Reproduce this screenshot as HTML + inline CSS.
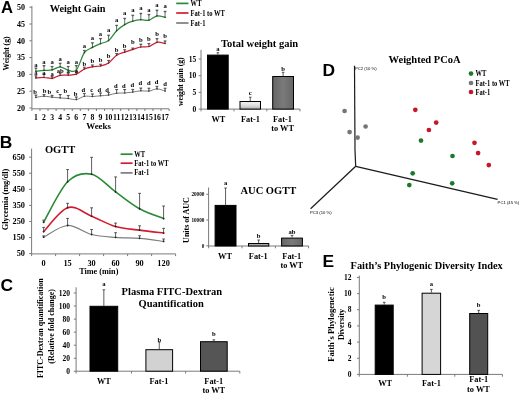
<!DOCTYPE html>
<html><head><meta charset="utf-8"><title>Figure</title>
<style>
html,body{margin:0;padding:0;background:#fff;width:520px;height:394px;overflow:hidden;}
svg{display:block;filter:blur(0.35px);}
</style></head>
<body>
<svg width="520" height="394" viewBox="0 0 520 394">
<rect x="0" y="0" width="520" height="394" fill="#fff"/>
<text x="0.90" y="12.80" font-family="'Liberation Sans', sans-serif" font-size="16.6" font-weight="bold" text-anchor="start" fill="#000" >A</text>
<text x="-0.30" y="147.80" font-family="'Liberation Sans', sans-serif" font-size="17.4" font-weight="bold" text-anchor="start" fill="#000" >B</text>
<text x="0.40" y="290.80" font-family="'Liberation Sans', sans-serif" font-size="17.4" font-weight="bold" text-anchor="start" fill="#000" >C</text>
<text x="322.60" y="76.20" font-family="'Liberation Sans', sans-serif" font-size="17.4" font-weight="bold" text-anchor="start" fill="#000" >D</text>
<text x="322.60" y="267.10" font-family="'Liberation Sans', sans-serif" font-size="17.4" font-weight="bold" text-anchor="start" fill="#000" >E</text>
<line x1="31.90" y1="6.00" x2="31.90" y2="108.80" stroke="#7a7a7a" stroke-width="1" />
<line x1="31.90" y1="108.80" x2="169.10" y2="108.80" stroke="#7a7a7a" stroke-width="1" />
<line x1="29.40" y1="7.20" x2="31.90" y2="7.20" stroke="#7a7a7a" stroke-width="1" />
<text x="25.00" y="9.92" font-family="'Liberation Serif', serif" font-size="8" font-weight="bold" text-anchor="end" fill="#000" >50</text>
<line x1="29.40" y1="24.00" x2="31.90" y2="24.00" stroke="#7a7a7a" stroke-width="1" />
<text x="25.00" y="26.72" font-family="'Liberation Serif', serif" font-size="8" font-weight="bold" text-anchor="end" fill="#000" >45</text>
<line x1="29.40" y1="40.80" x2="31.90" y2="40.80" stroke="#7a7a7a" stroke-width="1" />
<text x="25.00" y="43.52" font-family="'Liberation Serif', serif" font-size="8" font-weight="bold" text-anchor="end" fill="#000" >40</text>
<line x1="29.40" y1="57.60" x2="31.90" y2="57.60" stroke="#7a7a7a" stroke-width="1" />
<text x="25.00" y="60.32" font-family="'Liberation Serif', serif" font-size="8" font-weight="bold" text-anchor="end" fill="#000" >35</text>
<line x1="29.40" y1="74.40" x2="31.90" y2="74.40" stroke="#7a7a7a" stroke-width="1" />
<text x="25.00" y="77.12" font-family="'Liberation Serif', serif" font-size="8" font-weight="bold" text-anchor="end" fill="#000" >30</text>
<line x1="29.40" y1="91.20" x2="31.90" y2="91.20" stroke="#7a7a7a" stroke-width="1" />
<text x="25.00" y="93.92" font-family="'Liberation Serif', serif" font-size="8" font-weight="bold" text-anchor="end" fill="#000" >25</text>
<line x1="29.40" y1="108.00" x2="31.90" y2="108.00" stroke="#7a7a7a" stroke-width="1" />
<text x="25.00" y="110.72" font-family="'Liberation Serif', serif" font-size="8" font-weight="bold" text-anchor="end" fill="#000" >20</text>
<line x1="31.90" y1="108.80" x2="31.90" y2="111.00" stroke="#7a7a7a" stroke-width="1" />
<line x1="39.97" y1="108.80" x2="39.97" y2="111.00" stroke="#7a7a7a" stroke-width="1" />
<line x1="48.04" y1="108.80" x2="48.04" y2="111.00" stroke="#7a7a7a" stroke-width="1" />
<line x1="56.11" y1="108.80" x2="56.11" y2="111.00" stroke="#7a7a7a" stroke-width="1" />
<line x1="64.18" y1="108.80" x2="64.18" y2="111.00" stroke="#7a7a7a" stroke-width="1" />
<line x1="72.25" y1="108.80" x2="72.25" y2="111.00" stroke="#7a7a7a" stroke-width="1" />
<line x1="80.32" y1="108.80" x2="80.32" y2="111.00" stroke="#7a7a7a" stroke-width="1" />
<line x1="88.39" y1="108.80" x2="88.39" y2="111.00" stroke="#7a7a7a" stroke-width="1" />
<line x1="96.46" y1="108.80" x2="96.46" y2="111.00" stroke="#7a7a7a" stroke-width="1" />
<line x1="104.54" y1="108.80" x2="104.54" y2="111.00" stroke="#7a7a7a" stroke-width="1" />
<line x1="112.61" y1="108.80" x2="112.61" y2="111.00" stroke="#7a7a7a" stroke-width="1" />
<line x1="120.68" y1="108.80" x2="120.68" y2="111.00" stroke="#7a7a7a" stroke-width="1" />
<line x1="128.75" y1="108.80" x2="128.75" y2="111.00" stroke="#7a7a7a" stroke-width="1" />
<line x1="136.82" y1="108.80" x2="136.82" y2="111.00" stroke="#7a7a7a" stroke-width="1" />
<line x1="144.89" y1="108.80" x2="144.89" y2="111.00" stroke="#7a7a7a" stroke-width="1" />
<line x1="152.96" y1="108.80" x2="152.96" y2="111.00" stroke="#7a7a7a" stroke-width="1" />
<line x1="161.03" y1="108.80" x2="161.03" y2="111.00" stroke="#7a7a7a" stroke-width="1" />
<line x1="169.10" y1="108.80" x2="169.10" y2="111.00" stroke="#7a7a7a" stroke-width="1" />
<text x="35.94" y="119.60" font-family="'Liberation Serif', serif" font-size="7.7" font-weight="bold" text-anchor="middle" fill="#000" >1</text>
<text x="44.01" y="119.60" font-family="'Liberation Serif', serif" font-size="7.7" font-weight="bold" text-anchor="middle" fill="#000" >2</text>
<text x="52.08" y="119.60" font-family="'Liberation Serif', serif" font-size="7.7" font-weight="bold" text-anchor="middle" fill="#000" >3</text>
<text x="60.15" y="119.60" font-family="'Liberation Serif', serif" font-size="7.7" font-weight="bold" text-anchor="middle" fill="#000" >4</text>
<text x="68.22" y="119.60" font-family="'Liberation Serif', serif" font-size="7.7" font-weight="bold" text-anchor="middle" fill="#000" >5</text>
<text x="76.29" y="119.60" font-family="'Liberation Serif', serif" font-size="7.7" font-weight="bold" text-anchor="middle" fill="#000" >6</text>
<text x="84.36" y="119.60" font-family="'Liberation Serif', serif" font-size="7.7" font-weight="bold" text-anchor="middle" fill="#000" >7</text>
<text x="92.43" y="119.60" font-family="'Liberation Serif', serif" font-size="7.7" font-weight="bold" text-anchor="middle" fill="#000" >8</text>
<text x="100.50" y="119.60" font-family="'Liberation Serif', serif" font-size="7.7" font-weight="bold" text-anchor="middle" fill="#000" >9</text>
<text x="108.57" y="119.60" font-family="'Liberation Serif', serif" font-size="7.7" font-weight="bold" text-anchor="middle" fill="#000" >10</text>
<text x="116.64" y="119.60" font-family="'Liberation Serif', serif" font-size="7.7" font-weight="bold" text-anchor="middle" fill="#000" >11</text>
<text x="124.71" y="119.60" font-family="'Liberation Serif', serif" font-size="7.7" font-weight="bold" text-anchor="middle" fill="#000" >12</text>
<text x="132.78" y="119.60" font-family="'Liberation Serif', serif" font-size="7.7" font-weight="bold" text-anchor="middle" fill="#000" >13</text>
<text x="140.85" y="119.60" font-family="'Liberation Serif', serif" font-size="7.7" font-weight="bold" text-anchor="middle" fill="#000" >14</text>
<text x="148.92" y="119.60" font-family="'Liberation Serif', serif" font-size="7.7" font-weight="bold" text-anchor="middle" fill="#000" >15</text>
<text x="156.99" y="119.60" font-family="'Liberation Serif', serif" font-size="7.7" font-weight="bold" text-anchor="middle" fill="#000" >16</text>
<text x="165.06" y="119.60" font-family="'Liberation Serif', serif" font-size="7.7" font-weight="bold" text-anchor="middle" fill="#000" >17</text>
<text x="98.60" y="128.80" font-family="'Liberation Serif', serif" font-size="8.9" font-weight="bold" text-anchor="middle" fill="#000" >Weeks</text>
<text transform="translate(6.30,53.50) rotate(-90)" x="0" y="0" font-family="'Liberation Serif', serif" font-size="7.6" font-weight="bold" text-anchor="middle" dominant-baseline="central" fill="#000">Weight (g)</text>
<text x="49.70" y="12.00" font-family="'Liberation Serif', serif" font-size="10.3" font-weight="bold" text-anchor="start" fill="#000" >Weight Gain</text>
<line x1="35.94" y1="97.40" x2="35.94" y2="95.00" stroke="#3a3a3a" stroke-width="0.75" />
<line x1="34.49" y1="95.00" x2="37.39" y2="95.00" stroke="#3a3a3a" stroke-width="0.8" />
<path d="M34.74,95.00 L37.14,95.00 L35.94,96.60 Z" fill="#555"/>
<line x1="44.01" y1="96.20" x2="44.01" y2="94.50" stroke="#3a3a3a" stroke-width="0.75" />
<line x1="42.56" y1="94.50" x2="45.46" y2="94.50" stroke="#3a3a3a" stroke-width="0.8" />
<path d="M42.81,94.50 L45.21,94.50 L44.01,96.10 Z" fill="#555"/>
<line x1="52.08" y1="97.20" x2="52.08" y2="95.30" stroke="#3a3a3a" stroke-width="0.75" />
<line x1="50.63" y1="95.30" x2="53.53" y2="95.30" stroke="#3a3a3a" stroke-width="0.8" />
<path d="M50.88,95.30 L53.28,95.30 L52.08,96.90 Z" fill="#555"/>
<line x1="60.15" y1="97.90" x2="60.15" y2="94.50" stroke="#3a3a3a" stroke-width="0.75" />
<line x1="58.70" y1="94.50" x2="61.60" y2="94.50" stroke="#3a3a3a" stroke-width="0.8" />
<path d="M58.95,94.50 L61.35,94.50 L60.15,96.10 Z" fill="#555"/>
<line x1="68.22" y1="98.50" x2="68.22" y2="95.50" stroke="#3a3a3a" stroke-width="0.75" />
<line x1="66.77" y1="95.50" x2="69.67" y2="95.50" stroke="#3a3a3a" stroke-width="0.8" />
<path d="M67.02,95.50 L69.42,95.50 L68.22,97.10 Z" fill="#555"/>
<line x1="76.29" y1="99.60" x2="76.29" y2="96.90" stroke="#3a3a3a" stroke-width="0.75" />
<line x1="74.84" y1="96.90" x2="77.74" y2="96.90" stroke="#3a3a3a" stroke-width="0.8" />
<path d="M75.09,96.90 L77.49,96.90 L76.29,98.50 Z" fill="#555"/>
<line x1="84.36" y1="96.30" x2="84.36" y2="93.40" stroke="#3a3a3a" stroke-width="0.75" />
<line x1="82.91" y1="93.40" x2="85.81" y2="93.40" stroke="#3a3a3a" stroke-width="0.8" />
<path d="M83.16,93.40 L85.56,93.40 L84.36,95.00 Z" fill="#555"/>
<line x1="92.43" y1="96.50" x2="92.43" y2="93.90" stroke="#3a3a3a" stroke-width="0.75" />
<line x1="90.98" y1="93.90" x2="93.88" y2="93.90" stroke="#3a3a3a" stroke-width="0.8" />
<path d="M91.23,93.90 L93.63,93.90 L92.43,95.50 Z" fill="#555"/>
<line x1="100.50" y1="95.80" x2="100.50" y2="92.90" stroke="#3a3a3a" stroke-width="0.75" />
<line x1="99.05" y1="92.90" x2="101.95" y2="92.90" stroke="#3a3a3a" stroke-width="0.8" />
<path d="M99.30,92.90 L101.70,92.90 L100.50,94.50 Z" fill="#555"/>
<line x1="108.57" y1="95.10" x2="108.57" y2="92.40" stroke="#3a3a3a" stroke-width="0.75" />
<line x1="107.12" y1="92.40" x2="110.02" y2="92.40" stroke="#3a3a3a" stroke-width="0.8" />
<path d="M107.37,92.40 L109.77,92.40 L108.57,94.00 Z" fill="#555"/>
<line x1="116.64" y1="93.20" x2="116.64" y2="89.50" stroke="#3a3a3a" stroke-width="0.75" />
<line x1="115.19" y1="89.50" x2="118.09" y2="89.50" stroke="#3a3a3a" stroke-width="0.8" />
<path d="M115.44,89.50 L117.84,89.50 L116.64,91.10 Z" fill="#555"/>
<line x1="124.71" y1="93.00" x2="124.71" y2="89.50" stroke="#3a3a3a" stroke-width="0.75" />
<line x1="123.26" y1="89.50" x2="126.16" y2="89.50" stroke="#3a3a3a" stroke-width="0.8" />
<path d="M123.51,89.50 L125.91,89.50 L124.71,91.10 Z" fill="#555"/>
<line x1="132.78" y1="92.10" x2="132.78" y2="89.40" stroke="#3a3a3a" stroke-width="0.75" />
<line x1="131.33" y1="89.40" x2="134.23" y2="89.40" stroke="#3a3a3a" stroke-width="0.8" />
<path d="M131.58,89.40 L133.98,89.40 L132.78,91.00 Z" fill="#555"/>
<line x1="140.85" y1="90.80" x2="140.85" y2="88.00" stroke="#3a3a3a" stroke-width="0.75" />
<line x1="139.40" y1="88.00" x2="142.30" y2="88.00" stroke="#3a3a3a" stroke-width="0.8" />
<path d="M139.65,88.00 L142.05,88.00 L140.85,89.60 Z" fill="#555"/>
<line x1="148.92" y1="91.10" x2="148.92" y2="88.20" stroke="#3a3a3a" stroke-width="0.75" />
<line x1="147.47" y1="88.20" x2="150.37" y2="88.20" stroke="#3a3a3a" stroke-width="0.8" />
<path d="M147.72,88.20 L150.12,88.20 L148.92,89.80 Z" fill="#555"/>
<line x1="156.99" y1="88.90" x2="156.99" y2="86.30" stroke="#3a3a3a" stroke-width="0.75" />
<line x1="155.54" y1="86.30" x2="158.44" y2="86.30" stroke="#3a3a3a" stroke-width="0.8" />
<path d="M155.79,86.30 L158.19,86.30 L156.99,87.90 Z" fill="#555"/>
<line x1="165.06" y1="91.10" x2="165.06" y2="88.20" stroke="#3a3a3a" stroke-width="0.75" />
<line x1="163.61" y1="88.20" x2="166.51" y2="88.20" stroke="#3a3a3a" stroke-width="0.8" />
<path d="M163.86,88.20 L166.26,88.20 L165.06,89.80 Z" fill="#555"/>
<path d="M35.94,97.40 C37.28,97.20 41.32,96.23 44.01,96.20 C46.70,96.17 49.39,96.92 52.08,97.20 C54.77,97.48 57.46,97.68 60.15,97.90 C62.84,98.12 65.53,98.22 68.22,98.50 C70.91,98.78 73.60,99.97 76.29,99.60 C78.98,99.23 81.67,96.82 84.36,96.30 C87.05,95.78 89.74,96.58 92.43,96.50 C95.12,96.42 97.81,96.03 100.50,95.80 C103.19,95.57 105.88,95.53 108.57,95.10 C111.26,94.67 113.95,93.55 116.64,93.20 C119.33,92.85 122.02,93.18 124.71,93.00 C127.40,92.82 130.09,92.47 132.78,92.10 C135.47,91.73 138.16,90.97 140.85,90.80 C143.54,90.63 146.23,91.42 148.92,91.10 C151.61,90.78 154.30,88.90 156.99,88.90 C159.68,88.90 163.72,90.73 165.06,91.10" stroke="#7c7c7c" stroke-width="1.0" fill="none" stroke-linejoin="round" stroke-linecap="round"/>
<circle cx="35.94" cy="97.40" r="0.8" fill="#333"/>
<circle cx="44.01" cy="96.20" r="0.8" fill="#333"/>
<circle cx="52.08" cy="97.20" r="0.8" fill="#333"/>
<circle cx="60.15" cy="97.90" r="0.8" fill="#333"/>
<circle cx="68.22" cy="98.50" r="0.8" fill="#333"/>
<circle cx="76.29" cy="99.60" r="0.8" fill="#333"/>
<circle cx="84.36" cy="96.30" r="0.8" fill="#333"/>
<circle cx="92.43" cy="96.50" r="0.8" fill="#333"/>
<circle cx="100.50" cy="95.80" r="0.8" fill="#333"/>
<circle cx="108.57" cy="95.10" r="0.8" fill="#333"/>
<circle cx="116.64" cy="93.20" r="0.8" fill="#333"/>
<circle cx="124.71" cy="93.00" r="0.8" fill="#333"/>
<circle cx="132.78" cy="92.10" r="0.8" fill="#333"/>
<circle cx="140.85" cy="90.80" r="0.8" fill="#333"/>
<circle cx="148.92" cy="91.10" r="0.8" fill="#333"/>
<circle cx="156.99" cy="88.90" r="0.8" fill="#333"/>
<circle cx="165.06" cy="91.10" r="0.8" fill="#333"/>
<text x="35.14" y="93.60" font-family="'Liberation Serif', serif" font-size="6.6" font-weight="bold" text-anchor="middle" fill="#000" >b</text>
<text x="44.51" y="93.20" font-family="'Liberation Serif', serif" font-size="6.6" font-weight="bold" text-anchor="middle" fill="#000" >b</text>
<text x="49.28" y="93.60" font-family="'Liberation Serif', serif" font-size="6.6" font-weight="bold" text-anchor="middle" fill="#000" >b</text>
<text x="57.65" y="92.90" font-family="'Liberation Serif', serif" font-size="6.6" font-weight="bold" text-anchor="middle" fill="#000" >c</text>
<text x="65.42" y="93.20" font-family="'Liberation Serif', serif" font-size="6.6" font-weight="bold" text-anchor="middle" fill="#000" >b</text>
<text x="75.49" y="95.80" font-family="'Liberation Serif', serif" font-size="6.6" font-weight="bold" text-anchor="middle" fill="#000" >b</text>
<text x="83.36" y="92.00" font-family="'Liberation Serif', serif" font-size="6.6" font-weight="bold" text-anchor="middle" fill="#000" >d</text>
<text x="91.63" y="91.80" font-family="'Liberation Serif', serif" font-size="6.6" font-weight="bold" text-anchor="middle" fill="#000" >c</text>
<text x="99.40" y="91.80" font-family="'Liberation Serif', serif" font-size="6.6" font-weight="bold" text-anchor="middle" fill="#000" >d</text>
<text x="107.07" y="91.50" font-family="'Liberation Serif', serif" font-size="6.6" font-weight="bold" text-anchor="middle" fill="#000" >d</text>
<text x="115.74" y="87.70" font-family="'Liberation Serif', serif" font-size="6.6" font-weight="bold" text-anchor="middle" fill="#000" >d</text>
<text x="123.91" y="87.70" font-family="'Liberation Serif', serif" font-size="6.6" font-weight="bold" text-anchor="middle" fill="#000" >d</text>
<text x="132.38" y="86.90" font-family="'Liberation Serif', serif" font-size="6.6" font-weight="bold" text-anchor="middle" fill="#000" >d</text>
<text x="140.45" y="85.30" font-family="'Liberation Serif', serif" font-size="6.6" font-weight="bold" text-anchor="middle" fill="#000" >d</text>
<text x="148.92" y="85.00" font-family="'Liberation Serif', serif" font-size="6.6" font-weight="bold" text-anchor="middle" fill="#000" >d</text>
<text x="156.59" y="84.20" font-family="'Liberation Serif', serif" font-size="6.6" font-weight="bold" text-anchor="middle" fill="#000" >d</text>
<text x="165.06" y="85.60" font-family="'Liberation Serif', serif" font-size="6.6" font-weight="bold" text-anchor="middle" fill="#000" >d</text>
<line x1="35.94" y1="77.90" x2="35.94" y2="75.80" stroke="#3a3a3a" stroke-width="0.75" />
<line x1="34.49" y1="75.80" x2="37.39" y2="75.80" stroke="#3a3a3a" stroke-width="0.8" />
<path d="M34.74,75.80 L37.14,75.80 L35.94,77.40 Z" fill="#555"/>
<line x1="44.01" y1="77.50" x2="44.01" y2="74.00" stroke="#3a3a3a" stroke-width="0.75" />
<line x1="42.56" y1="74.00" x2="45.46" y2="74.00" stroke="#3a3a3a" stroke-width="0.8" />
<path d="M42.81,74.00 L45.21,74.00 L44.01,75.60 Z" fill="#555"/>
<line x1="52.08" y1="78.40" x2="52.08" y2="76.30" stroke="#3a3a3a" stroke-width="0.75" />
<line x1="50.63" y1="76.30" x2="53.53" y2="76.30" stroke="#3a3a3a" stroke-width="0.8" />
<path d="M50.88,76.30 L53.28,76.30 L52.08,77.90 Z" fill="#555"/>
<line x1="60.15" y1="75.30" x2="60.15" y2="73.00" stroke="#3a3a3a" stroke-width="0.75" />
<line x1="58.70" y1="73.00" x2="61.60" y2="73.00" stroke="#3a3a3a" stroke-width="0.8" />
<path d="M58.95,73.00 L61.35,73.00 L60.15,74.60 Z" fill="#555"/>
<line x1="68.22" y1="75.10" x2="68.22" y2="73.00" stroke="#3a3a3a" stroke-width="0.75" />
<line x1="66.77" y1="73.00" x2="69.67" y2="73.00" stroke="#3a3a3a" stroke-width="0.8" />
<path d="M67.02,73.00 L69.42,73.00 L68.22,74.60 Z" fill="#555"/>
<line x1="76.29" y1="74.20" x2="76.29" y2="71.60" stroke="#3a3a3a" stroke-width="0.75" />
<line x1="74.84" y1="71.60" x2="77.74" y2="71.60" stroke="#3a3a3a" stroke-width="0.8" />
<path d="M75.09,71.60 L77.49,71.60 L76.29,73.20 Z" fill="#555"/>
<line x1="84.36" y1="69.00" x2="84.36" y2="67.20" stroke="#3a3a3a" stroke-width="0.75" />
<line x1="82.91" y1="67.20" x2="85.81" y2="67.20" stroke="#3a3a3a" stroke-width="0.8" />
<path d="M83.16,67.20 L85.56,67.20 L84.36,68.80 Z" fill="#555"/>
<line x1="92.43" y1="66.80" x2="92.43" y2="64.90" stroke="#3a3a3a" stroke-width="0.75" />
<line x1="90.98" y1="64.90" x2="93.88" y2="64.90" stroke="#3a3a3a" stroke-width="0.8" />
<path d="M91.23,64.90 L93.63,64.90 L92.43,66.50 Z" fill="#555"/>
<line x1="100.50" y1="66.00" x2="100.50" y2="64.20" stroke="#3a3a3a" stroke-width="0.75" />
<line x1="99.05" y1="64.20" x2="101.95" y2="64.20" stroke="#3a3a3a" stroke-width="0.8" />
<path d="M99.30,64.20 L101.70,64.20 L100.50,65.80 Z" fill="#555"/>
<line x1="108.57" y1="63.00" x2="108.57" y2="60.40" stroke="#3a3a3a" stroke-width="0.75" />
<line x1="107.12" y1="60.40" x2="110.02" y2="60.40" stroke="#3a3a3a" stroke-width="0.8" />
<path d="M107.37,60.40 L109.77,60.40 L108.57,62.00 Z" fill="#555"/>
<line x1="116.64" y1="55.30" x2="116.64" y2="53.50" stroke="#3a3a3a" stroke-width="0.75" />
<line x1="115.19" y1="53.50" x2="118.09" y2="53.50" stroke="#3a3a3a" stroke-width="0.8" />
<path d="M115.44,53.50 L117.84,53.50 L116.64,55.10 Z" fill="#555"/>
<line x1="124.71" y1="52.20" x2="124.71" y2="49.70" stroke="#3a3a3a" stroke-width="0.75" />
<line x1="123.26" y1="49.70" x2="126.16" y2="49.70" stroke="#3a3a3a" stroke-width="0.8" />
<path d="M123.51,49.70 L125.91,49.70 L124.71,51.30 Z" fill="#555"/>
<line x1="132.78" y1="49.50" x2="132.78" y2="48.00" stroke="#3a3a3a" stroke-width="0.75" />
<line x1="131.33" y1="48.00" x2="134.23" y2="48.00" stroke="#3a3a3a" stroke-width="0.8" />
<path d="M131.58,48.00 L133.98,48.00 L132.78,49.50 Z" fill="#555"/>
<line x1="140.85" y1="47.00" x2="140.85" y2="44.10" stroke="#3a3a3a" stroke-width="0.75" />
<line x1="139.40" y1="44.10" x2="142.30" y2="44.10" stroke="#3a3a3a" stroke-width="0.8" />
<path d="M139.65,44.10 L142.05,44.10 L140.85,45.70 Z" fill="#555"/>
<line x1="148.92" y1="46.50" x2="148.92" y2="43.50" stroke="#3a3a3a" stroke-width="0.75" />
<line x1="147.47" y1="43.50" x2="150.37" y2="43.50" stroke="#3a3a3a" stroke-width="0.8" />
<path d="M147.72,43.50 L150.12,43.50 L148.92,45.10 Z" fill="#555"/>
<line x1="156.99" y1="42.30" x2="156.99" y2="38.60" stroke="#3a3a3a" stroke-width="0.75" />
<line x1="155.54" y1="38.60" x2="158.44" y2="38.60" stroke="#3a3a3a" stroke-width="0.8" />
<path d="M155.79,38.60 L158.19,38.60 L156.99,40.20 Z" fill="#555"/>
<line x1="165.06" y1="43.50" x2="165.06" y2="40.90" stroke="#3a3a3a" stroke-width="0.75" />
<line x1="163.61" y1="40.90" x2="166.51" y2="40.90" stroke="#3a3a3a" stroke-width="0.8" />
<path d="M163.86,40.90 L166.26,40.90 L165.06,42.50 Z" fill="#555"/>
<path d="M35.94,77.90 C37.28,77.83 41.32,77.42 44.01,77.50 C46.70,77.58 49.39,78.77 52.08,78.40 C54.77,78.03 57.46,75.85 60.15,75.30 C62.84,74.75 65.53,75.28 68.22,75.10 C70.91,74.92 73.60,75.22 76.29,74.20 C78.98,73.18 81.67,70.23 84.36,69.00 C87.05,67.77 89.74,67.30 92.43,66.80 C95.12,66.30 97.81,66.63 100.50,66.00 C103.19,65.37 105.88,64.78 108.57,63.00 C111.26,61.22 113.95,57.10 116.64,55.30 C119.33,53.50 122.02,53.17 124.71,52.20 C127.40,51.23 130.09,50.37 132.78,49.50 C135.47,48.63 138.16,47.50 140.85,47.00 C143.54,46.50 146.23,47.28 148.92,46.50 C151.61,45.72 154.30,42.80 156.99,42.30 C159.68,41.80 163.72,43.30 165.06,43.50" stroke="#d41a2e" stroke-width="1.25" fill="none" stroke-linejoin="round" stroke-linecap="round"/>
<circle cx="35.94" cy="77.90" r="0.8" fill="#333"/>
<circle cx="44.01" cy="77.50" r="0.8" fill="#333"/>
<circle cx="52.08" cy="78.40" r="0.8" fill="#333"/>
<circle cx="60.15" cy="75.30" r="0.8" fill="#333"/>
<circle cx="68.22" cy="75.10" r="0.8" fill="#333"/>
<circle cx="76.29" cy="74.20" r="0.8" fill="#333"/>
<circle cx="84.36" cy="69.00" r="0.8" fill="#333"/>
<circle cx="92.43" cy="66.80" r="0.8" fill="#333"/>
<circle cx="100.50" cy="66.00" r="0.8" fill="#333"/>
<circle cx="108.57" cy="63.00" r="0.8" fill="#333"/>
<circle cx="116.64" cy="55.30" r="0.8" fill="#333"/>
<circle cx="124.71" cy="52.20" r="0.8" fill="#333"/>
<circle cx="132.78" cy="49.50" r="0.8" fill="#333"/>
<circle cx="140.85" cy="47.00" r="0.8" fill="#333"/>
<circle cx="148.92" cy="46.50" r="0.8" fill="#333"/>
<circle cx="156.99" cy="42.30" r="0.8" fill="#333"/>
<circle cx="165.06" cy="43.50" r="0.8" fill="#333"/>
<text x="35.94" y="75.30" font-family="'Liberation Serif', serif" font-size="6.6" font-weight="bold" text-anchor="middle" fill="#000" >a</text>
<text x="44.01" y="74.60" font-family="'Liberation Serif', serif" font-size="6.6" font-weight="bold" text-anchor="middle" fill="#000" >a</text>
<text x="52.08" y="75.60" font-family="'Liberation Serif', serif" font-size="6.6" font-weight="bold" text-anchor="middle" fill="#000" >a</text>
<text x="60.15" y="73.10" font-family="'Liberation Serif', serif" font-size="6.6" font-weight="bold" text-anchor="middle" fill="#000" >ab</text>
<text x="68.22" y="72.50" font-family="'Liberation Serif', serif" font-size="6.6" font-weight="bold" text-anchor="middle" fill="#000" >a</text>
<text x="76.29" y="72.50" font-family="'Liberation Serif', serif" font-size="6.6" font-weight="bold" text-anchor="middle" fill="#000" >a</text>
<text x="84.36" y="66.40" font-family="'Liberation Serif', serif" font-size="6.6" font-weight="bold" text-anchor="middle" fill="#000" >b</text>
<text x="92.43" y="62.60" font-family="'Liberation Serif', serif" font-size="6.6" font-weight="bold" text-anchor="middle" fill="#000" >b</text>
<text x="100.50" y="62.10" font-family="'Liberation Serif', serif" font-size="6.6" font-weight="bold" text-anchor="middle" fill="#000" >b</text>
<text x="108.57" y="57.50" font-family="'Liberation Serif', serif" font-size="6.6" font-weight="bold" text-anchor="middle" fill="#000" >b</text>
<text x="116.64" y="52.20" font-family="'Liberation Serif', serif" font-size="6.6" font-weight="bold" text-anchor="middle" fill="#000" >b</text>
<text x="124.71" y="47.50" font-family="'Liberation Serif', serif" font-size="6.6" font-weight="bold" text-anchor="middle" fill="#000" >b</text>
<text x="132.78" y="44.10" font-family="'Liberation Serif', serif" font-size="6.6" font-weight="bold" text-anchor="middle" fill="#000" >b</text>
<text x="140.85" y="41.70" font-family="'Liberation Serif', serif" font-size="6.6" font-weight="bold" text-anchor="middle" fill="#000" >b</text>
<text x="148.92" y="40.50" font-family="'Liberation Serif', serif" font-size="6.6" font-weight="bold" text-anchor="middle" fill="#000" >b</text>
<text x="156.99" y="35.70" font-family="'Liberation Serif', serif" font-size="6.6" font-weight="bold" text-anchor="middle" fill="#000" >b</text>
<text x="165.06" y="37.60" font-family="'Liberation Serif', serif" font-size="6.6" font-weight="bold" text-anchor="middle" fill="#000" >b</text>
<line x1="35.94" y1="71.40" x2="35.94" y2="68.00" stroke="#3a3a3a" stroke-width="0.75" />
<line x1="34.49" y1="68.00" x2="37.39" y2="68.00" stroke="#3a3a3a" stroke-width="0.8" />
<path d="M34.74,68.00 L37.14,68.00 L35.94,69.60 Z" fill="#555"/>
<line x1="44.01" y1="70.40" x2="44.01" y2="65.60" stroke="#3a3a3a" stroke-width="0.75" />
<line x1="42.56" y1="65.60" x2="45.46" y2="65.60" stroke="#3a3a3a" stroke-width="0.8" />
<path d="M42.81,65.60 L45.21,65.60 L44.01,67.20 Z" fill="#555"/>
<line x1="52.08" y1="69.90" x2="52.08" y2="66.40" stroke="#3a3a3a" stroke-width="0.75" />
<line x1="50.63" y1="66.40" x2="53.53" y2="66.40" stroke="#3a3a3a" stroke-width="0.8" />
<path d="M50.88,66.40 L53.28,66.40 L52.08,68.00 Z" fill="#555"/>
<line x1="60.15" y1="66.80" x2="60.15" y2="63.20" stroke="#3a3a3a" stroke-width="0.75" />
<line x1="58.70" y1="63.20" x2="61.60" y2="63.20" stroke="#3a3a3a" stroke-width="0.8" />
<path d="M58.95,63.20 L61.35,63.20 L60.15,64.80 Z" fill="#555"/>
<line x1="68.22" y1="70.20" x2="68.22" y2="66.40" stroke="#3a3a3a" stroke-width="0.75" />
<line x1="66.77" y1="66.40" x2="69.67" y2="66.40" stroke="#3a3a3a" stroke-width="0.8" />
<path d="M67.02,66.40 L69.42,66.40 L68.22,68.00 Z" fill="#555"/>
<line x1="76.29" y1="70.20" x2="76.29" y2="65.60" stroke="#3a3a3a" stroke-width="0.75" />
<line x1="74.84" y1="65.60" x2="77.74" y2="65.60" stroke="#3a3a3a" stroke-width="0.8" />
<path d="M75.09,65.60 L77.49,65.60 L76.29,67.20 Z" fill="#555"/>
<line x1="84.36" y1="52.70" x2="84.36" y2="50.40" stroke="#3a3a3a" stroke-width="0.75" />
<line x1="82.91" y1="50.40" x2="85.81" y2="50.40" stroke="#3a3a3a" stroke-width="0.8" />
<path d="M83.16,50.40 L85.56,50.40 L84.36,52.00 Z" fill="#555"/>
<line x1="92.43" y1="47.40" x2="92.43" y2="42.80" stroke="#3a3a3a" stroke-width="0.75" />
<line x1="90.98" y1="42.80" x2="93.88" y2="42.80" stroke="#3a3a3a" stroke-width="0.8" />
<path d="M91.23,42.80 L93.63,42.80 L92.43,44.40 Z" fill="#555"/>
<line x1="100.50" y1="43.60" x2="100.50" y2="38.60" stroke="#3a3a3a" stroke-width="0.75" />
<line x1="99.05" y1="38.60" x2="101.95" y2="38.60" stroke="#3a3a3a" stroke-width="0.8" />
<path d="M99.30,38.60 L101.70,38.60 L100.50,40.20 Z" fill="#555"/>
<line x1="108.57" y1="40.60" x2="108.57" y2="35.20" stroke="#3a3a3a" stroke-width="0.75" />
<line x1="107.12" y1="35.20" x2="110.02" y2="35.20" stroke="#3a3a3a" stroke-width="0.8" />
<path d="M107.37,35.20 L109.77,35.20 L108.57,36.80 Z" fill="#555"/>
<line x1="116.64" y1="30.70" x2="116.64" y2="25.30" stroke="#3a3a3a" stroke-width="0.75" />
<line x1="115.19" y1="25.30" x2="118.09" y2="25.30" stroke="#3a3a3a" stroke-width="0.8" />
<path d="M115.44,25.30 L117.84,25.30 L116.64,26.90 Z" fill="#555"/>
<line x1="124.71" y1="24.60" x2="124.71" y2="18.30" stroke="#3a3a3a" stroke-width="0.75" />
<line x1="123.26" y1="18.30" x2="126.16" y2="18.30" stroke="#3a3a3a" stroke-width="0.8" />
<path d="M123.51,18.30 L125.91,18.30 L124.71,19.90 Z" fill="#555"/>
<line x1="132.78" y1="21.20" x2="132.78" y2="15.20" stroke="#3a3a3a" stroke-width="0.75" />
<line x1="131.33" y1="15.20" x2="134.23" y2="15.20" stroke="#3a3a3a" stroke-width="0.8" />
<path d="M131.58,15.20 L133.98,15.20 L132.78,16.80 Z" fill="#555"/>
<line x1="140.85" y1="19.70" x2="140.85" y2="13.30" stroke="#3a3a3a" stroke-width="0.75" />
<line x1="139.40" y1="13.30" x2="142.30" y2="13.30" stroke="#3a3a3a" stroke-width="0.8" />
<path d="M139.65,13.30 L142.05,13.30 L140.85,14.90 Z" fill="#555"/>
<line x1="148.92" y1="20.20" x2="148.92" y2="14.40" stroke="#3a3a3a" stroke-width="0.75" />
<line x1="147.47" y1="14.40" x2="150.37" y2="14.40" stroke="#3a3a3a" stroke-width="0.8" />
<path d="M147.72,14.40 L150.12,14.40 L148.92,16.00 Z" fill="#555"/>
<line x1="156.99" y1="15.90" x2="156.99" y2="10.10" stroke="#3a3a3a" stroke-width="0.75" />
<line x1="155.54" y1="10.10" x2="158.44" y2="10.10" stroke="#3a3a3a" stroke-width="0.8" />
<path d="M155.79,10.10 L158.19,10.10 L156.99,11.70 Z" fill="#555"/>
<line x1="165.06" y1="17.30" x2="165.06" y2="11.30" stroke="#3a3a3a" stroke-width="0.75" />
<line x1="163.61" y1="11.30" x2="166.51" y2="11.30" stroke="#3a3a3a" stroke-width="0.8" />
<path d="M163.86,11.30 L166.26,11.30 L165.06,12.90 Z" fill="#555"/>
<path d="M35.94,71.40 C37.28,71.23 41.32,70.65 44.01,70.40 C46.70,70.15 49.39,70.50 52.08,69.90 C54.77,69.30 57.46,66.75 60.15,66.80 C62.84,66.85 65.53,69.63 68.22,70.20 C70.91,70.77 73.60,73.12 76.29,70.20 C78.98,67.28 81.67,56.50 84.36,52.70 C87.05,48.90 89.74,48.92 92.43,47.40 C95.12,45.88 97.81,44.73 100.50,43.60 C103.19,42.47 105.88,42.75 108.57,40.60 C111.26,38.45 113.95,33.37 116.64,30.70 C119.33,28.03 122.02,26.18 124.71,24.60 C127.40,23.02 130.09,22.02 132.78,21.20 C135.47,20.38 138.16,19.87 140.85,19.70 C143.54,19.53 146.23,20.83 148.92,20.20 C151.61,19.57 154.30,16.38 156.99,15.90 C159.68,15.42 163.72,17.07 165.06,17.30" stroke="#2b8a38" stroke-width="1.25" fill="none" stroke-linejoin="round" stroke-linecap="round"/>
<circle cx="35.94" cy="71.40" r="0.8" fill="#333"/>
<circle cx="44.01" cy="70.40" r="0.8" fill="#333"/>
<circle cx="52.08" cy="69.90" r="0.8" fill="#333"/>
<circle cx="60.15" cy="66.80" r="0.8" fill="#333"/>
<circle cx="68.22" cy="70.20" r="0.8" fill="#333"/>
<circle cx="76.29" cy="70.20" r="0.8" fill="#333"/>
<circle cx="84.36" cy="52.70" r="0.8" fill="#333"/>
<circle cx="92.43" cy="47.40" r="0.8" fill="#333"/>
<circle cx="100.50" cy="43.60" r="0.8" fill="#333"/>
<circle cx="108.57" cy="40.60" r="0.8" fill="#333"/>
<circle cx="116.64" cy="30.70" r="0.8" fill="#333"/>
<circle cx="124.71" cy="24.60" r="0.8" fill="#333"/>
<circle cx="132.78" cy="21.20" r="0.8" fill="#333"/>
<circle cx="140.85" cy="19.70" r="0.8" fill="#333"/>
<circle cx="148.92" cy="20.20" r="0.8" fill="#333"/>
<circle cx="156.99" cy="15.90" r="0.8" fill="#333"/>
<circle cx="165.06" cy="17.30" r="0.8" fill="#333"/>
<text x="35.94" y="66.60" font-family="'Liberation Serif', serif" font-size="6.6" font-weight="bold" text-anchor="middle" fill="#000" >a</text>
<text x="44.01" y="63.80" font-family="'Liberation Serif', serif" font-size="6.6" font-weight="bold" text-anchor="middle" fill="#000" >a</text>
<text x="52.08" y="64.20" font-family="'Liberation Serif', serif" font-size="6.6" font-weight="bold" text-anchor="middle" fill="#000" >a</text>
<text x="60.15" y="60.90" font-family="'Liberation Serif', serif" font-size="6.6" font-weight="bold" text-anchor="middle" fill="#000" >a</text>
<text x="68.22" y="64.20" font-family="'Liberation Serif', serif" font-size="6.6" font-weight="bold" text-anchor="middle" fill="#000" >a</text>
<text x="76.29" y="63.80" font-family="'Liberation Serif', serif" font-size="6.6" font-weight="bold" text-anchor="middle" fill="#000" >a</text>
<text x="84.36" y="48.10" font-family="'Liberation Serif', serif" font-size="6.6" font-weight="bold" text-anchor="middle" fill="#000" >a</text>
<text x="92.43" y="39.80" font-family="'Liberation Serif', serif" font-size="6.6" font-weight="bold" text-anchor="middle" fill="#000" >a</text>
<text x="100.50" y="36.00" font-family="'Liberation Serif', serif" font-size="6.6" font-weight="bold" text-anchor="middle" fill="#000" >a</text>
<text x="108.57" y="32.20" font-family="'Liberation Serif', serif" font-size="6.6" font-weight="bold" text-anchor="middle" fill="#000" >a</text>
<text x="116.64" y="22.30" font-family="'Liberation Serif', serif" font-size="6.6" font-weight="bold" text-anchor="middle" fill="#000" >a</text>
<text x="124.71" y="15.00" font-family="'Liberation Serif', serif" font-size="6.6" font-weight="bold" text-anchor="middle" fill="#000" >a</text>
<text x="132.78" y="12.10" font-family="'Liberation Serif', serif" font-size="6.6" font-weight="bold" text-anchor="middle" fill="#000" >a</text>
<text x="140.85" y="10.00" font-family="'Liberation Serif', serif" font-size="6.6" font-weight="bold" text-anchor="middle" fill="#000" >a</text>
<text x="148.92" y="11.60" font-family="'Liberation Serif', serif" font-size="6.6" font-weight="bold" text-anchor="middle" fill="#000" >a</text>
<text x="156.99" y="7.30" font-family="'Liberation Serif', serif" font-size="6.6" font-weight="bold" text-anchor="middle" fill="#000" >a</text>
<text x="165.06" y="8.40" font-family="'Liberation Serif', serif" font-size="6.6" font-weight="bold" text-anchor="middle" fill="#000" >a</text>
<line x1="176.20" y1="3.40" x2="188.50" y2="3.40" stroke="#2b8a38" stroke-width="1.7" />
<text transform="translate(190.60,5.95) scale(0.86,1)" x="0" y="0" font-family="'Liberation Serif', serif" font-size="7.6" font-weight="bold" text-anchor="start" fill="#000" >WT</text>
<line x1="176.20" y1="13.00" x2="188.50" y2="13.00" stroke="#d41a2e" stroke-width="1.7" />
<text transform="translate(190.60,15.55) scale(0.86,1)" x="0" y="0" font-family="'Liberation Serif', serif" font-size="7.6" font-weight="bold" text-anchor="start" fill="#000" >Fat-1 to WT</text>
<line x1="176.20" y1="23.00" x2="188.50" y2="23.00" stroke="#7c7c7c" stroke-width="1.7" />
<text transform="translate(190.60,25.55) scale(0.86,1)" x="0" y="0" font-family="'Liberation Serif', serif" font-size="7.6" font-weight="bold" text-anchor="start" fill="#000" >Fat-1</text>
<defs>
<linearGradient id="gLight" x1="0" x2="0" y1="0" y2="1">
<stop offset="0" stop-color="#f4f4f4"/><stop offset="0.5" stop-color="#dedede"/><stop offset="1" stop-color="#b4b4b4"/>
</linearGradient>
<linearGradient id="gDark" x1="0" x2="1" y1="0" y2="0">
<stop offset="0" stop-color="#666"/><stop offset="0.5" stop-color="#7a7a7a"/><stop offset="1" stop-color="#666"/>
</linearGradient>
</defs>
<text x="221.00" y="46.60" font-family="'Liberation Serif', serif" font-size="10.5" font-weight="bold" text-anchor="start" fill="#000" >Total weight gain</text>
<line x1="201.00" y1="49.80" x2="201.00" y2="109.10" stroke="#7a7a7a" stroke-width="1" />
<line x1="201.00" y1="109.10" x2="300.00" y2="109.10" stroke="#7a7a7a" stroke-width="1" />
<line x1="198.70" y1="109.10" x2="201.00" y2="109.10" stroke="#7a7a7a" stroke-width="1" />
<text x="196.20" y="111.65" font-family="'Liberation Serif', serif" font-size="7.5" font-weight="bold" text-anchor="end" fill="#000" >0</text>
<line x1="198.70" y1="92.40" x2="201.00" y2="92.40" stroke="#7a7a7a" stroke-width="1" />
<text x="196.20" y="94.95" font-family="'Liberation Serif', serif" font-size="7.5" font-weight="bold" text-anchor="end" fill="#000" >5</text>
<line x1="198.70" y1="75.70" x2="201.00" y2="75.70" stroke="#7a7a7a" stroke-width="1" />
<text x="196.20" y="78.25" font-family="'Liberation Serif', serif" font-size="7.5" font-weight="bold" text-anchor="end" fill="#000" >10</text>
<line x1="198.70" y1="59.00" x2="201.00" y2="59.00" stroke="#7a7a7a" stroke-width="1" />
<text x="196.20" y="61.55" font-family="'Liberation Serif', serif" font-size="7.5" font-weight="bold" text-anchor="end" fill="#000" >15</text>
<line x1="201.00" y1="109.10" x2="201.00" y2="111.40" stroke="#7a7a7a" stroke-width="1" />
<line x1="234.00" y1="109.10" x2="234.00" y2="111.40" stroke="#7a7a7a" stroke-width="1" />
<line x1="266.80" y1="109.10" x2="266.80" y2="111.40" stroke="#7a7a7a" stroke-width="1" />
<line x1="300.00" y1="109.10" x2="300.00" y2="111.40" stroke="#7a7a7a" stroke-width="1" />
<line x1="217.85" y1="54.60" x2="217.85" y2="52.70" stroke="#333" stroke-width="0.8" />
<line x1="216.55" y1="52.70" x2="219.15" y2="52.70" stroke="#333" stroke-width="0.8" />
<rect x="207.50" y="55.10" width="20.70" height="54.00" fill="#000" stroke="#000" stroke-width="1"/>
<text x="217.85" y="51.12" font-family="'Liberation Serif', serif" font-size="6.6" font-weight="bold" text-anchor="middle" fill="#000" >a</text>
<line x1="250.25" y1="101.00" x2="250.25" y2="97.20" stroke="#333" stroke-width="0.8" />
<line x1="248.95" y1="97.20" x2="251.55" y2="97.20" stroke="#333" stroke-width="0.8" />
<rect x="240.00" y="101.50" width="20.50" height="7.60" fill="url(#gLight)" stroke="#000" stroke-width="1"/>
<text x="250.25" y="94.82" font-family="'Liberation Serif', serif" font-size="6.6" font-weight="bold" text-anchor="middle" fill="#000" >c</text>
<line x1="283.10" y1="76.00" x2="283.10" y2="72.30" stroke="#333" stroke-width="0.8" />
<line x1="281.80" y1="72.30" x2="284.40" y2="72.30" stroke="#333" stroke-width="0.8" />
<rect x="272.70" y="76.50" width="20.80" height="32.60" fill="url(#gDark)" stroke="#000" stroke-width="1"/>
<text x="283.10" y="70.64" font-family="'Liberation Serif', serif" font-size="6.6" font-weight="bold" text-anchor="middle" fill="#000" >b</text>
<text x="218.30" y="122.20" font-family="'Liberation Serif', serif" font-size="8.3" font-weight="bold" text-anchor="middle" fill="#000" >WT</text>
<text x="250.50" y="122.20" font-family="'Liberation Serif', serif" font-size="8.3" font-weight="bold" text-anchor="middle" fill="#000" >Fat-1</text>
<text x="282.40" y="122.20" font-family="'Liberation Serif', serif" font-size="8.3" font-weight="bold" text-anchor="middle" fill="#000" >Fat-1</text>
<text x="282.60" y="130.80" font-family="'Liberation Serif', serif" font-size="8.3" font-weight="bold" text-anchor="middle" fill="#000" >to WT</text>
<text transform="translate(180.80,81.70) rotate(-90)" x="0" y="0" font-family="'Liberation Serif', serif" font-size="7.7" font-weight="bold" text-anchor="middle" dominant-baseline="central" fill="#000">weight gain (g)</text>
<line x1="31.60" y1="148.60" x2="31.60" y2="253.90" stroke="#7a7a7a" stroke-width="1" />
<line x1="31.60" y1="253.90" x2="175.60" y2="253.90" stroke="#7a7a7a" stroke-width="1" />
<line x1="29.10" y1="253.60" x2="31.60" y2="253.60" stroke="#7a7a7a" stroke-width="1" />
<text x="25.00" y="256.42" font-family="'Liberation Serif', serif" font-size="8.3" font-weight="bold" text-anchor="end" fill="#000" >50</text>
<line x1="29.10" y1="237.53" x2="31.60" y2="237.53" stroke="#7a7a7a" stroke-width="1" />
<text x="25.00" y="240.35" font-family="'Liberation Serif', serif" font-size="8.3" font-weight="bold" text-anchor="end" fill="#000" >150</text>
<line x1="29.10" y1="221.46" x2="31.60" y2="221.46" stroke="#7a7a7a" stroke-width="1" />
<text x="25.00" y="224.28" font-family="'Liberation Serif', serif" font-size="8.3" font-weight="bold" text-anchor="end" fill="#000" >250</text>
<line x1="29.10" y1="205.39" x2="31.60" y2="205.39" stroke="#7a7a7a" stroke-width="1" />
<text x="25.00" y="208.21" font-family="'Liberation Serif', serif" font-size="8.3" font-weight="bold" text-anchor="end" fill="#000" >350</text>
<line x1="29.10" y1="189.32" x2="31.60" y2="189.32" stroke="#7a7a7a" stroke-width="1" />
<text x="25.00" y="192.14" font-family="'Liberation Serif', serif" font-size="8.3" font-weight="bold" text-anchor="end" fill="#000" >450</text>
<line x1="29.10" y1="173.25" x2="31.60" y2="173.25" stroke="#7a7a7a" stroke-width="1" />
<text x="25.00" y="176.07" font-family="'Liberation Serif', serif" font-size="8.3" font-weight="bold" text-anchor="end" fill="#000" >550</text>
<line x1="29.10" y1="157.18" x2="31.60" y2="157.18" stroke="#7a7a7a" stroke-width="1" />
<text x="25.00" y="160.00" font-family="'Liberation Serif', serif" font-size="8.3" font-weight="bold" text-anchor="end" fill="#000" >650</text>
<line x1="31.60" y1="253.90" x2="31.60" y2="256.10" stroke="#7a7a7a" stroke-width="1" />
<line x1="55.60" y1="253.90" x2="55.60" y2="256.10" stroke="#7a7a7a" stroke-width="1" />
<line x1="79.60" y1="253.90" x2="79.60" y2="256.10" stroke="#7a7a7a" stroke-width="1" />
<line x1="103.60" y1="253.90" x2="103.60" y2="256.10" stroke="#7a7a7a" stroke-width="1" />
<line x1="127.60" y1="253.90" x2="127.60" y2="256.10" stroke="#7a7a7a" stroke-width="1" />
<line x1="151.60" y1="253.90" x2="151.60" y2="256.10" stroke="#7a7a7a" stroke-width="1" />
<line x1="175.60" y1="253.90" x2="175.60" y2="256.10" stroke="#7a7a7a" stroke-width="1" />
<text x="43.60" y="266.40" font-family="'Liberation Serif', serif" font-size="8.3" font-weight="bold" text-anchor="middle" fill="#000" >0</text>
<text x="67.60" y="266.40" font-family="'Liberation Serif', serif" font-size="8.3" font-weight="bold" text-anchor="middle" fill="#000" >15</text>
<text x="91.60" y="266.40" font-family="'Liberation Serif', serif" font-size="8.3" font-weight="bold" text-anchor="middle" fill="#000" >30</text>
<text x="115.60" y="266.40" font-family="'Liberation Serif', serif" font-size="8.3" font-weight="bold" text-anchor="middle" fill="#000" >60</text>
<text x="139.60" y="266.40" font-family="'Liberation Serif', serif" font-size="8.3" font-weight="bold" text-anchor="middle" fill="#000" >90</text>
<text x="163.60" y="266.40" font-family="'Liberation Serif', serif" font-size="8.3" font-weight="bold" text-anchor="middle" fill="#000" >120</text>
<text x="98.80" y="274.20" font-family="'Liberation Serif', serif" font-size="8.2" font-weight="bold" text-anchor="middle" fill="#000" >Time (min)</text>
<text transform="translate(5.60,199.50) rotate(-90)" x="0" y="0" font-family="'Liberation Serif', serif" font-size="8.3" font-weight="bold" text-anchor="middle" dominant-baseline="central" fill="#000">Glycemia (mg/dl)</text>
<text x="44.90" y="153.10" font-family="'Liberation Serif', serif" font-size="10.5" font-weight="bold" text-anchor="start" fill="#000" >OGTT</text>
<line x1="43.60" y1="237.21" x2="43.60" y2="235.92" stroke="#333" stroke-width="0.8" />
<line x1="42.20" y1="235.92" x2="45.00" y2="235.92" stroke="#333" stroke-width="0.8" />
<line x1="67.60" y1="225.48" x2="67.60" y2="218.41" stroke="#333" stroke-width="0.8" />
<line x1="66.20" y1="218.41" x2="69.00" y2="218.41" stroke="#333" stroke-width="0.8" />
<line x1="91.60" y1="234.48" x2="91.60" y2="229.50" stroke="#333" stroke-width="0.8" />
<line x1="90.20" y1="229.50" x2="93.00" y2="229.50" stroke="#333" stroke-width="0.8" />
<line x1="115.60" y1="237.37" x2="115.60" y2="232.71" stroke="#333" stroke-width="0.8" />
<line x1="114.20" y1="232.71" x2="117.00" y2="232.71" stroke="#333" stroke-width="0.8" />
<line x1="139.60" y1="238.33" x2="139.60" y2="235.76" stroke="#333" stroke-width="0.8" />
<line x1="138.20" y1="235.76" x2="141.00" y2="235.76" stroke="#333" stroke-width="0.8" />
<line x1="163.60" y1="241.39" x2="163.60" y2="238.98" stroke="#333" stroke-width="0.8" />
<line x1="162.20" y1="238.98" x2="165.00" y2="238.98" stroke="#333" stroke-width="0.8" />
<path d="M43.60,237.21 C47.60,235.25 59.60,225.93 67.60,225.48 C75.60,225.02 83.60,232.49 91.60,234.48 C99.60,236.46 107.60,236.73 115.60,237.37 C123.60,238.01 131.60,237.66 139.60,238.33 C147.60,239.00 159.60,240.88 163.60,241.39" stroke="#7c7c7c" stroke-width="1.2" fill="none" stroke-linejoin="round" stroke-linecap="round"/>
<circle cx="43.60" cy="237.21" r="0.9" fill="#222"/>
<circle cx="67.60" cy="225.48" r="0.9" fill="#222"/>
<circle cx="91.60" cy="234.48" r="0.9" fill="#222"/>
<circle cx="115.60" cy="237.37" r="0.9" fill="#222"/>
<circle cx="139.60" cy="238.33" r="0.9" fill="#222"/>
<circle cx="163.60" cy="241.39" r="0.9" fill="#222"/>
<line x1="43.60" y1="231.58" x2="43.60" y2="227.41" stroke="#333" stroke-width="0.8" />
<line x1="42.20" y1="227.41" x2="45.00" y2="227.41" stroke="#333" stroke-width="0.8" />
<line x1="67.60" y1="207.64" x2="67.60" y2="203.30" stroke="#333" stroke-width="0.8" />
<line x1="66.20" y1="203.30" x2="69.00" y2="203.30" stroke="#333" stroke-width="0.8" />
<line x1="91.60" y1="216.16" x2="91.60" y2="207.80" stroke="#333" stroke-width="0.8" />
<line x1="90.20" y1="207.80" x2="93.00" y2="207.80" stroke="#333" stroke-width="0.8" />
<line x1="115.60" y1="226.60" x2="115.60" y2="223.07" stroke="#333" stroke-width="0.8" />
<line x1="114.20" y1="223.07" x2="117.00" y2="223.07" stroke="#333" stroke-width="0.8" />
<line x1="139.60" y1="230.14" x2="139.60" y2="225.80" stroke="#333" stroke-width="0.8" />
<line x1="138.20" y1="225.80" x2="141.00" y2="225.80" stroke="#333" stroke-width="0.8" />
<line x1="163.60" y1="233.03" x2="163.60" y2="228.37" stroke="#333" stroke-width="0.8" />
<line x1="162.20" y1="228.37" x2="165.00" y2="228.37" stroke="#333" stroke-width="0.8" />
<path d="M43.60,231.58 C47.60,227.59 59.60,210.21 67.60,207.64 C75.60,205.07 83.60,213.00 91.60,216.16 C99.60,219.32 107.60,224.27 115.60,226.60 C123.60,228.93 131.60,229.07 139.60,230.14 C147.60,231.21 159.60,232.55 163.60,233.03" stroke="#d41a2e" stroke-width="1.6" fill="none" stroke-linejoin="round" stroke-linecap="round"/>
<circle cx="43.60" cy="231.58" r="0.9" fill="#222"/>
<circle cx="67.60" cy="207.64" r="0.9" fill="#222"/>
<circle cx="91.60" cy="216.16" r="0.9" fill="#222"/>
<circle cx="115.60" cy="226.60" r="0.9" fill="#222"/>
<circle cx="139.60" cy="230.14" r="0.9" fill="#222"/>
<circle cx="163.60" cy="233.03" r="0.9" fill="#222"/>
<line x1="43.60" y1="222.26" x2="43.60" y2="220.17" stroke="#333" stroke-width="0.8" />
<line x1="42.20" y1="220.17" x2="45.00" y2="220.17" stroke="#333" stroke-width="0.8" />
<line x1="67.60" y1="181.77" x2="67.60" y2="169.55" stroke="#333" stroke-width="0.8" />
<line x1="66.20" y1="169.55" x2="69.00" y2="169.55" stroke="#333" stroke-width="0.8" />
<line x1="91.60" y1="174.21" x2="91.60" y2="157.34" stroke="#333" stroke-width="0.8" />
<line x1="90.20" y1="157.34" x2="93.00" y2="157.34" stroke="#333" stroke-width="0.8" />
<line x1="115.60" y1="191.89" x2="115.60" y2="176.95" stroke="#333" stroke-width="0.8" />
<line x1="114.20" y1="176.95" x2="117.00" y2="176.95" stroke="#333" stroke-width="0.8" />
<line x1="139.60" y1="208.76" x2="139.60" y2="193.34" stroke="#333" stroke-width="0.8" />
<line x1="138.20" y1="193.34" x2="141.00" y2="193.34" stroke="#333" stroke-width="0.8" />
<line x1="163.60" y1="218.57" x2="163.60" y2="206.03" stroke="#333" stroke-width="0.8" />
<line x1="162.20" y1="206.03" x2="165.00" y2="206.03" stroke="#333" stroke-width="0.8" />
<path d="M43.60,222.26 C47.60,215.51 59.60,189.78 67.60,181.77 C75.60,173.76 83.60,172.53 91.60,174.21 C99.60,175.90 107.60,186.13 115.60,191.89 C123.60,197.65 131.60,204.32 139.60,208.76 C147.60,213.21 159.60,216.93 163.60,218.57" stroke="#2b8a38" stroke-width="1.6" fill="none" stroke-linejoin="round" stroke-linecap="round"/>
<circle cx="43.60" cy="222.26" r="0.9" fill="#222"/>
<circle cx="67.60" cy="181.77" r="0.9" fill="#222"/>
<circle cx="91.60" cy="174.21" r="0.9" fill="#222"/>
<circle cx="115.60" cy="191.89" r="0.9" fill="#222"/>
<circle cx="139.60" cy="208.76" r="0.9" fill="#222"/>
<circle cx="163.60" cy="218.57" r="0.9" fill="#222"/>
<line x1="120.60" y1="154.20" x2="132.60" y2="154.20" stroke="#2b8a38" stroke-width="1.7" />
<text transform="translate(134.30,156.75) scale(0.86,1)" x="0" y="0" font-family="'Liberation Serif', serif" font-size="7.6" font-weight="bold" text-anchor="start" fill="#000" >WT</text>
<line x1="120.60" y1="163.20" x2="132.60" y2="163.20" stroke="#d41a2e" stroke-width="1.7" />
<text transform="translate(134.30,165.75) scale(0.86,1)" x="0" y="0" font-family="'Liberation Serif', serif" font-size="7.6" font-weight="bold" text-anchor="start" fill="#000" >Fat-1 to WT</text>
<line x1="120.60" y1="172.90" x2="132.60" y2="172.90" stroke="#7c7c7c" stroke-width="1.7" />
<text transform="translate(134.30,175.45) scale(0.86,1)" x="0" y="0" font-family="'Liberation Serif', serif" font-size="7.6" font-weight="bold" text-anchor="start" fill="#000" >Fat-1</text>
<line x1="208.60" y1="187.50" x2="208.60" y2="246.00" stroke="#7a7a7a" stroke-width="1" />
<line x1="208.60" y1="246.00" x2="308.60" y2="246.00" stroke="#7a7a7a" stroke-width="1" />
<line x1="206.30" y1="245.80" x2="208.60" y2="245.80" stroke="#7a7a7a" stroke-width="1" />
<text x="204.40" y="247.57" font-family="'Liberation Serif', serif" font-size="5.2" font-weight="bold" text-anchor="end" fill="#000" >0</text>
<line x1="206.30" y1="220.05" x2="208.60" y2="220.05" stroke="#7a7a7a" stroke-width="1" />
<text x="204.40" y="221.82" font-family="'Liberation Serif', serif" font-size="5.2" font-weight="bold" text-anchor="end" fill="#000" >10000</text>
<line x1="206.30" y1="194.30" x2="208.60" y2="194.30" stroke="#7a7a7a" stroke-width="1" />
<text x="204.40" y="196.07" font-family="'Liberation Serif', serif" font-size="5.2" font-weight="bold" text-anchor="end" fill="#000" >20000</text>
<line x1="208.60" y1="246.00" x2="208.60" y2="248.30" stroke="#7a7a7a" stroke-width="1" />
<line x1="242.00" y1="246.00" x2="242.00" y2="248.30" stroke="#7a7a7a" stroke-width="1" />
<line x1="275.40" y1="246.00" x2="275.40" y2="248.30" stroke="#7a7a7a" stroke-width="1" />
<line x1="308.60" y1="246.00" x2="308.60" y2="248.30" stroke="#7a7a7a" stroke-width="1" />
<line x1="225.55" y1="204.90" x2="225.55" y2="188.00" stroke="#333" stroke-width="0.8" />
<line x1="224.25" y1="188.00" x2="226.85" y2="188.00" stroke="#333" stroke-width="0.8" />
<rect x="215.10" y="205.40" width="20.90" height="40.60" fill="#000" stroke="#000" stroke-width="1"/>
<text x="225.55" y="185.32" font-family="'Liberation Serif', serif" font-size="6.6" font-weight="bold" text-anchor="middle" fill="#000" >a</text>
<line x1="258.65" y1="243.00" x2="258.65" y2="240.00" stroke="#333" stroke-width="0.8" />
<line x1="257.35" y1="240.00" x2="259.95" y2="240.00" stroke="#333" stroke-width="0.8" />
<rect x="248.50" y="243.50" width="20.30" height="2.50" fill="#a8a8a8" stroke="#000" stroke-width="1"/>
<text x="258.65" y="237.64" font-family="'Liberation Serif', serif" font-size="6.6" font-weight="bold" text-anchor="middle" fill="#000" >b</text>
<line x1="292.00" y1="237.60" x2="292.00" y2="235.40" stroke="#333" stroke-width="0.8" />
<line x1="290.70" y1="235.40" x2="293.30" y2="235.40" stroke="#333" stroke-width="0.8" />
<rect x="281.60" y="238.10" width="20.80" height="7.90" fill="url(#gDark)" stroke="#000" stroke-width="1"/>
<text x="292.00" y="233.51" font-family="'Liberation Serif', serif" font-size="6.6" font-weight="bold" text-anchor="middle" fill="#000" >ab</text>
<text x="225.00" y="258.50" font-family="'Liberation Serif', serif" font-size="8.3" font-weight="bold" text-anchor="middle" fill="#000" >WT</text>
<text x="258.30" y="258.50" font-family="'Liberation Serif', serif" font-size="8.3" font-weight="bold" text-anchor="middle" fill="#000" >Fat-1</text>
<text x="291.80" y="258.50" font-family="'Liberation Serif', serif" font-size="8.3" font-weight="bold" text-anchor="middle" fill="#000" >Fat-1</text>
<text x="291.80" y="267.80" font-family="'Liberation Serif', serif" font-size="8.3" font-weight="bold" text-anchor="middle" fill="#000" >to WT</text>
<text transform="translate(186.20,220.00) rotate(-90)" x="0" y="0" font-family="'Liberation Serif', serif" font-size="8.0" font-weight="bold" text-anchor="middle" dominant-baseline="central" fill="#000">Units of AUC</text>
<text x="240.50" y="194.30" font-family="'Liberation Serif', serif" font-size="10.5" font-weight="bold" text-anchor="start" fill="#000" >AUC OGTT</text>
<line x1="76.10" y1="287.30" x2="76.10" y2="371.20" stroke="#7a7a7a" stroke-width="1" />
<line x1="76.10" y1="371.20" x2="239.80" y2="371.20" stroke="#7a7a7a" stroke-width="1" />
<line x1="73.80" y1="371.30" x2="76.10" y2="371.30" stroke="#7a7a7a" stroke-width="1" />
<text x="70.00" y="373.85" font-family="'Liberation Serif', serif" font-size="7.5" font-weight="bold" text-anchor="end" fill="#000" >0</text>
<line x1="73.80" y1="358.25" x2="76.10" y2="358.25" stroke="#7a7a7a" stroke-width="1" />
<text x="70.00" y="360.80" font-family="'Liberation Serif', serif" font-size="7.5" font-weight="bold" text-anchor="end" fill="#000" >20</text>
<line x1="73.80" y1="345.20" x2="76.10" y2="345.20" stroke="#7a7a7a" stroke-width="1" />
<text x="70.00" y="347.75" font-family="'Liberation Serif', serif" font-size="7.5" font-weight="bold" text-anchor="end" fill="#000" >40</text>
<line x1="73.80" y1="332.15" x2="76.10" y2="332.15" stroke="#7a7a7a" stroke-width="1" />
<text x="70.00" y="334.70" font-family="'Liberation Serif', serif" font-size="7.5" font-weight="bold" text-anchor="end" fill="#000" >60</text>
<line x1="73.80" y1="319.10" x2="76.10" y2="319.10" stroke="#7a7a7a" stroke-width="1" />
<text x="70.00" y="321.65" font-family="'Liberation Serif', serif" font-size="7.5" font-weight="bold" text-anchor="end" fill="#000" >80</text>
<line x1="73.80" y1="306.05" x2="76.10" y2="306.05" stroke="#7a7a7a" stroke-width="1" />
<text x="70.00" y="308.60" font-family="'Liberation Serif', serif" font-size="7.5" font-weight="bold" text-anchor="end" fill="#000" >100</text>
<line x1="73.80" y1="293.00" x2="76.10" y2="293.00" stroke="#7a7a7a" stroke-width="1" />
<text x="70.00" y="295.55" font-family="'Liberation Serif', serif" font-size="7.5" font-weight="bold" text-anchor="end" fill="#000" >120</text>
<line x1="76.10" y1="371.20" x2="76.10" y2="373.50" stroke="#7a7a7a" stroke-width="1" />
<line x1="131.50" y1="371.20" x2="131.50" y2="373.50" stroke="#7a7a7a" stroke-width="1" />
<line x1="185.60" y1="371.20" x2="185.60" y2="373.50" stroke="#7a7a7a" stroke-width="1" />
<line x1="239.80" y1="371.20" x2="239.80" y2="373.50" stroke="#7a7a7a" stroke-width="1" />
<line x1="103.85" y1="305.80" x2="103.85" y2="289.80" stroke="#333" stroke-width="0.8" />
<line x1="102.55" y1="289.80" x2="105.15" y2="289.80" stroke="#333" stroke-width="0.8" />
<rect x="90.00" y="306.30" width="27.70" height="64.90" fill="#000" stroke="#000" stroke-width="1"/>
<text x="103.85" y="286.32" font-family="'Liberation Serif', serif" font-size="6.6" font-weight="bold" text-anchor="middle" fill="#000" >a</text>
<line x1="159.25" y1="349.20" x2="159.25" y2="342.00" stroke="#333" stroke-width="0.8" />
<line x1="157.95" y1="342.00" x2="160.55" y2="342.00" stroke="#333" stroke-width="0.8" />
<rect x="145.90" y="349.70" width="26.70" height="21.50" fill="#d2d2d2" stroke="#000" stroke-width="1"/>
<text x="159.25" y="341.84" font-family="'Liberation Serif', serif" font-size="6.6" font-weight="bold" text-anchor="middle" fill="#000" >b</text>
<line x1="213.85" y1="341.20" x2="213.85" y2="339.80" stroke="#333" stroke-width="0.8" />
<line x1="212.55" y1="339.80" x2="215.15" y2="339.80" stroke="#333" stroke-width="0.8" />
<rect x="200.50" y="341.70" width="26.70" height="29.50" fill="#555555" stroke="#000" stroke-width="1"/>
<text x="213.85" y="335.74" font-family="'Liberation Serif', serif" font-size="6.6" font-weight="bold" text-anchor="middle" fill="#000" >b</text>
<text x="103.80" y="383.80" font-family="'Liberation Serif', serif" font-size="8.3" font-weight="bold" text-anchor="middle" fill="#000" >WT</text>
<text x="159.00" y="383.80" font-family="'Liberation Serif', serif" font-size="8.3" font-weight="bold" text-anchor="middle" fill="#000" >Fat-1</text>
<text x="213.80" y="383.80" font-family="'Liberation Serif', serif" font-size="8.3" font-weight="bold" text-anchor="middle" fill="#000" >Fat-1</text>
<text x="213.80" y="392.60" font-family="'Liberation Serif', serif" font-size="8.3" font-weight="bold" text-anchor="middle" fill="#000" >to WT</text>
<text transform="translate(40.90,328.20) rotate(-90)" x="0" y="0" font-family="'Liberation Serif', serif" font-size="8.0" font-weight="bold" text-anchor="middle" dominant-baseline="central" fill="#000">FITC-Dextran quantification</text>
<text transform="translate(51.90,326.40) rotate(-90)" x="0" y="0" font-family="'Liberation Serif', serif" font-size="8.0" font-weight="bold" text-anchor="middle" dominant-baseline="central" fill="#000">(Relative fold change)</text>
<text x="171.90" y="295.00" font-family="'Liberation Serif', serif" font-size="10.5" font-weight="bold" text-anchor="middle" fill="#000" >Plasma FITC-Dextran</text>
<text x="171.20" y="307.30" font-family="'Liberation Serif', serif" font-size="10.5" font-weight="bold" text-anchor="middle" fill="#000" >Quantification</text>
<text x="388.60" y="62.70" font-family="'Liberation Serif', serif" font-size="10.5" font-weight="bold" text-anchor="start" fill="#000" >Weighted PCoA</text>
<line x1="354.50" y1="65.80" x2="355.00" y2="150.00" stroke="#1a1a1a" stroke-width="1.2" />
<line x1="355.00" y1="150.00" x2="355.70" y2="166.30" stroke="#1a1a1a" stroke-width="1.2" />
<line x1="355.70" y1="166.30" x2="497.60" y2="199.40" stroke="#1a1a1a" stroke-width="1.2" />
<line x1="355.70" y1="166.30" x2="310.60" y2="208.80" stroke="#1a1a1a" stroke-width="1.2" />
<text x="355.00" y="69.60" font-family="'Liberation Sans', sans-serif" font-size="4.2" font-weight="normal" text-anchor="start" fill="#000" >PC2 (10 %)</text>
<text x="497.60" y="204.20" font-family="'Liberation Sans', sans-serif" font-size="4.2" font-weight="normal" text-anchor="start" fill="#000" >PC1 (45 %)</text>
<text x="310.00" y="214.00" font-family="'Liberation Sans', sans-serif" font-size="4.2" font-weight="normal" text-anchor="start" fill="#000" >PC3 (10 %)</text>
<circle cx="344.60" cy="111.00" r="2.35" fill="#767676"/>
<circle cx="365.60" cy="126.50" r="2.35" fill="#767676"/>
<circle cx="349.60" cy="132.10" r="2.35" fill="#767676"/>
<circle cx="357.60" cy="137.60" r="2.35" fill="#767676"/>
<circle cx="415.30" cy="109.80" r="2.35" fill="#c9142a"/>
<circle cx="436.20" cy="122.60" r="2.35" fill="#c9142a"/>
<circle cx="428.90" cy="130.00" r="2.35" fill="#c9142a"/>
<circle cx="474.50" cy="142.80" r="2.35" fill="#c9142a"/>
<circle cx="478.10" cy="153.10" r="2.35" fill="#c9142a"/>
<circle cx="488.80" cy="165.10" r="2.35" fill="#c9142a"/>
<circle cx="421.00" cy="140.60" r="2.35" fill="#1a7a2c"/>
<circle cx="452.50" cy="156.00" r="2.35" fill="#1a7a2c"/>
<circle cx="412.70" cy="173.30" r="2.35" fill="#1a7a2c"/>
<circle cx="409.30" cy="185.10" r="2.35" fill="#1a7a2c"/>
<circle cx="452.20" cy="183.30" r="2.35" fill="#1a7a2c"/>
<circle cx="471.00" cy="73.60" r="2.35" fill="#1a7a2c"/>
<text transform="translate(475.40,76.15) scale(0.86,1)" x="0" y="0" font-family="'Liberation Serif', serif" font-size="7.6" font-weight="bold" text-anchor="start" fill="#000" >WT</text>
<circle cx="471.00" cy="83.00" r="2.35" fill="#767676"/>
<text transform="translate(475.40,85.55) scale(0.86,1)" x="0" y="0" font-family="'Liberation Serif', serif" font-size="7.6" font-weight="bold" text-anchor="start" fill="#000" >Fat-1 to WT</text>
<circle cx="471.00" cy="92.00" r="2.35" fill="#c9142a"/>
<text transform="translate(475.40,94.55) scale(0.86,1)" x="0" y="0" font-family="'Liberation Serif', serif" font-size="7.6" font-weight="bold" text-anchor="start" fill="#000" >Fat-1</text>
<text x="350.60" y="269.20" font-family="'Liberation Serif', serif" font-size="10.35" font-weight="bold" text-anchor="start" fill="#000" >Faith’s Phylogenic Diversity Index</text>
<line x1="359.30" y1="275.60" x2="359.30" y2="374.40" stroke="#7a7a7a" stroke-width="1" />
<line x1="359.30" y1="374.40" x2="502.40" y2="374.40" stroke="#7a7a7a" stroke-width="1" />
<line x1="357.00" y1="374.40" x2="359.30" y2="374.40" stroke="#7a7a7a" stroke-width="1" />
<text x="351.40" y="376.95" font-family="'Liberation Serif', serif" font-size="7.5" font-weight="bold" text-anchor="end" fill="#000" >0</text>
<line x1="357.00" y1="358.24" x2="359.30" y2="358.24" stroke="#7a7a7a" stroke-width="1" />
<text x="351.40" y="360.79" font-family="'Liberation Serif', serif" font-size="7.5" font-weight="bold" text-anchor="end" fill="#000" >2</text>
<line x1="357.00" y1="342.08" x2="359.30" y2="342.08" stroke="#7a7a7a" stroke-width="1" />
<text x="351.40" y="344.63" font-family="'Liberation Serif', serif" font-size="7.5" font-weight="bold" text-anchor="end" fill="#000" >4</text>
<line x1="357.00" y1="325.92" x2="359.30" y2="325.92" stroke="#7a7a7a" stroke-width="1" />
<text x="351.40" y="328.47" font-family="'Liberation Serif', serif" font-size="7.5" font-weight="bold" text-anchor="end" fill="#000" >6</text>
<line x1="357.00" y1="309.76" x2="359.30" y2="309.76" stroke="#7a7a7a" stroke-width="1" />
<text x="351.40" y="312.31" font-family="'Liberation Serif', serif" font-size="7.5" font-weight="bold" text-anchor="end" fill="#000" >8</text>
<line x1="357.00" y1="293.60" x2="359.30" y2="293.60" stroke="#7a7a7a" stroke-width="1" />
<text x="351.40" y="296.15" font-family="'Liberation Serif', serif" font-size="7.5" font-weight="bold" text-anchor="end" fill="#000" >10</text>
<line x1="357.00" y1="277.44" x2="359.30" y2="277.44" stroke="#7a7a7a" stroke-width="1" />
<text x="351.40" y="279.99" font-family="'Liberation Serif', serif" font-size="7.5" font-weight="bold" text-anchor="end" fill="#000" >12</text>
<line x1="359.30" y1="374.40" x2="359.30" y2="376.70" stroke="#7a7a7a" stroke-width="1" />
<line x1="407.40" y1="374.40" x2="407.40" y2="376.70" stroke="#7a7a7a" stroke-width="1" />
<line x1="454.80" y1="374.40" x2="454.80" y2="376.70" stroke="#7a7a7a" stroke-width="1" />
<line x1="502.40" y1="374.40" x2="502.40" y2="376.70" stroke="#7a7a7a" stroke-width="1" />
<line x1="384.20" y1="304.60" x2="384.20" y2="302.30" stroke="#333" stroke-width="0.8" />
<line x1="382.90" y1="302.30" x2="385.50" y2="302.30" stroke="#333" stroke-width="0.8" />
<rect x="375.20" y="305.10" width="18.00" height="69.30" fill="#000" stroke="#000" stroke-width="1"/>
<text x="384.20" y="299.44" font-family="'Liberation Serif', serif" font-size="6.6" font-weight="bold" text-anchor="middle" fill="#000" >b</text>
<line x1="431.35" y1="292.70" x2="431.35" y2="289.40" stroke="#333" stroke-width="0.8" />
<line x1="430.05" y1="289.40" x2="432.65" y2="289.40" stroke="#333" stroke-width="0.8" />
<rect x="422.10" y="293.20" width="18.50" height="81.20" fill="#d6d6d6" stroke="#000" stroke-width="1"/>
<text x="431.35" y="286.12" font-family="'Liberation Serif', serif" font-size="6.6" font-weight="bold" text-anchor="middle" fill="#000" >a</text>
<line x1="478.70" y1="313.00" x2="478.70" y2="310.30" stroke="#333" stroke-width="0.8" />
<line x1="477.40" y1="310.30" x2="480.00" y2="310.30" stroke="#333" stroke-width="0.8" />
<rect x="469.70" y="313.50" width="18.00" height="60.90" fill="#525252" stroke="#000" stroke-width="1"/>
<text x="478.70" y="307.04" font-family="'Liberation Serif', serif" font-size="6.6" font-weight="bold" text-anchor="middle" fill="#000" >b</text>
<text x="385.10" y="386.40" font-family="'Liberation Serif', serif" font-size="8.3" font-weight="bold" text-anchor="middle" fill="#000" >WT</text>
<text x="431.40" y="386.40" font-family="'Liberation Serif', serif" font-size="8.3" font-weight="bold" text-anchor="middle" fill="#000" >Fat-1</text>
<text x="478.70" y="382.20" font-family="'Liberation Serif', serif" font-size="8.3" font-weight="bold" text-anchor="middle" fill="#000" >Fat-1</text>
<text x="478.40" y="392.40" font-family="'Liberation Serif', serif" font-size="8.3" font-weight="bold" text-anchor="middle" fill="#000" >to WT</text>
<text transform="translate(331.40,324.50) rotate(-90)" x="0" y="0" font-family="'Liberation Serif', serif" font-size="8.6" font-weight="bold" text-anchor="middle" dominant-baseline="central" fill="#000">Faith’s Phylogenetic</text>
<text transform="translate(341.40,324.50) rotate(-90)" x="0" y="0" font-family="'Liberation Serif', serif" font-size="8.0" font-weight="bold" text-anchor="middle" dominant-baseline="central" fill="#000">Diversity</text>
</svg>
</body></html>
